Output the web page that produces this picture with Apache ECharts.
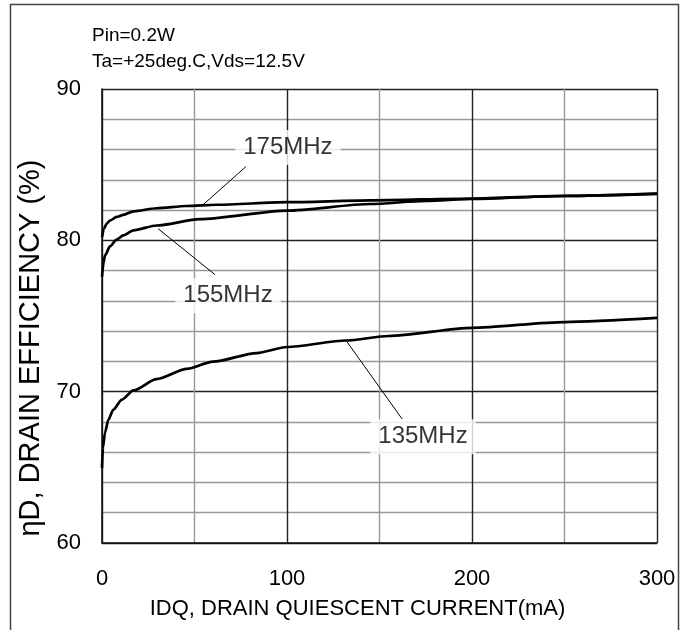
<!DOCTYPE html>
<html>
<head>
<meta charset="utf-8">
<script src="https://cdn.jsdelivr.net/npm/echarts@6/dist/echarts.min.js"></script>
<style>
  html, body { margin: 0; padding: 0; background: #fff; }
  #chart { width: 690px; height: 630px; }
</style>
</head>
<body>
<div id="chart"></div>
<script>
// Drain efficiency vs. drain quiescent current, one curve per frequency
const idq175 = [0, 1, 2.5, 4.3, 7.9, 11.5, 17, 29.5, 45.8, 62, 100, 145, 200, 250, 300];
const eff175 = [80.2, 80.75, 81.1, 81.3, 81.55, 81.68, 81.92, 82.12, 82.27, 82.35, 82.52, 82.64, 82.76, 82.94, 83.09];

const idq155 = [0, 0.8, 1.6, 4.3, 7.9, 11.5, 17, 29.5, 53, 100, 145, 175, 200, 250, 300];
const eff155 = [77.6, 78.5, 79.0, 79.6, 80.05, 80.33, 80.66, 80.98, 81.4, 81.96, 82.4, 82.6, 82.73, 82.93, 83.07];

const idq135 = [0, 0.5, 1.6, 3.4, 6.1, 10.6, 17, 29.5, 45.8, 60, 83.6, 100, 132, 155, 200, 250, 300];
const eff135 = [64.95, 66.3, 67.28, 68.14, 68.8, 69.46, 70.08, 70.83, 71.5, 71.98, 72.55, 72.95, 73.38, 73.68, 74.22, 74.6, 74.87];

// Curve captions and their leader lines (data units)
const captionNames = ['175MHz', '155MHz', '135MHz'];
const captionAt = [[100.5, 86.13], [68.1, 76.34], [173.5, 67.02]];
const leaderFrom = [[77.8, 84.87], [30.3, 80.77], [162.2, 68.2]];
const leaderTo = [[53.5, 82.23], [61.1, 77.73], [132.4, 73.3]];

const xTicks = [0, 100, 200, 300];
const yTicks = [60, 70, 80, 90];

const FONT = '"Liberation Sans", Arial, sans-serif';

const pairs = (xs, ys) => xs.map((x, i) => [x, ys[i]]);

const curve = (name, xs, ys) => ({
  name,
  type: 'line',
  data: pairs(xs, ys),
  showSymbol: false,
  smooth: 0.25,
  smoothMonotone: 'x',
  lineStyle: { color: '#000', width: 2.7 },
  z: 4,
  silent: true
});

const leaders = leaderFrom.map((p, i) => ({
  type: 'line',
  data: [p, leaderTo[i]],
  showSymbol: false,
  lineStyle: { color: '#000', width: 1 },
  z: 3,
  silent: true
}));

const captions = {
  type: 'scatter',
  data: captionAt.map((p, i) => ({ name: captionNames[i], value: p })),
  symbolSize: 0,
  z: 5,
  silent: true,
  label: {
    show: true,
    position: 'inside',
    formatter: '{b}',
    color: '#000',
    fontFamily: FONT,
    fontSize: 24,
    backgroundColor: '#fff',
    padding: [6, 8, 5, 8]
  }
};

const chart = echarts.init(document.getElementById('chart'), null, { renderer: 'canvas' });

chart.setOption({
  animation: false,
  backgroundColor: '#fff',
  grid: { left: 102, right: 33, top: 89, bottom: 87 },
  xAxis: {
    type: 'value',
    min: xTicks[0],
    max: xTicks[xTicks.length - 1],
    interval: 100,
    name: 'IDQ, DRAIN QUIESCENT CURRENT(mA)',
    nameLocation: 'middle',
    nameGap: 55,
    nameTextStyle: { color: '#000', fontFamily: FONT, fontSize: 22, padding: [0, 44, 0, 0] },
    axisLine: { show: true, onZero: false, lineStyle: { color: '#111', width: 1.5 } },
    axisTick: { show: false },
    axisLabel: { color: '#000', fontFamily: FONT, fontSize: 22, margin: 25 },
    splitLine: { show: true, lineStyle: { color: '#222', width: 1.4 } },
    minorTick: { show: false, splitNumber: 2 },
    minorSplitLine: { show: true, lineStyle: { color: '#999', width: 1.4 } }
  },
  yAxis: {
    type: 'value',
    min: yTicks[0],
    max: yTicks[yTicks.length - 1],
    interval: 10,
    name: 'ηD, DRAIN EFFICIENCY (%)',
    nameLocation: 'middle',
    nameGap: 52,
    nameRotate: 90,
    nameTextStyle: { color: '#000', fontFamily: FONT, fontSize: 29, padding: [0, 64, 0, 0] },
    axisLine: { show: true, onZero: false, lineStyle: { color: '#111', width: 1.5 } },
    axisTick: { show: false },
    axisLabel: { color: '#000', fontFamily: FONT, fontSize: 22, margin: 21 },
    splitLine: { show: true, lineStyle: { color: '#222', width: 1.4 } },
    minorTick: { show: false, splitNumber: 5 },
    minorSplitLine: { show: true, lineStyle: { color: '#999', width: 1.4 } }
  },
  graphic: [
    {
      type: 'rect',
      shape: { x: 10.5, y: 4.5, width: 668, height: 700 },
      style: { fill: 'none', stroke: '#444', lineWidth: 1.5 },
      silent: true
    },
    {
      type: 'text',
      left: 92, top: 26,
      style: { text: 'Pin=0.2W', fill: '#000', font: '19px ' + FONT }
    },
    {
      type: 'text',
      left: 92, top: 52,
      style: { text: 'Ta=+25deg.C,Vds=12.5V', fill: '#000', font: '19px ' + FONT }
    }
  ],
  series: [
    curve('175MHz', idq175, eff175),
    curve('155MHz', idq155, eff155),
    curve('135MHz', idq135, eff135),
    ...leaders,
    captions
  ]
});
</script>
</body>
</html>
